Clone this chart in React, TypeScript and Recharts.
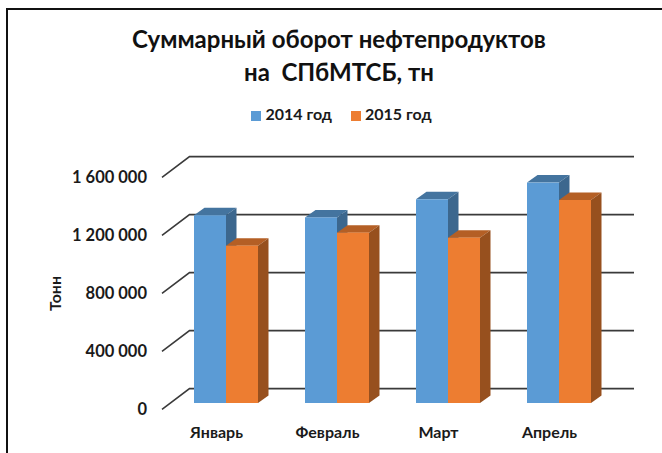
import { Bar, BarChart, CartesianGrid, Legend, XAxis, YAxis } from 'recharts';

const MONTHS = ['Январь', 'Февраль', 'Март', 'Апрель'];
const TONS_2014 = [1295000, 1280000, 1405000, 1520000];
const TONS_2015 = [1085000, 1175000, 1140000, 1400000];
const Y_TICKS = [0, 400000, 800000, 1200000, 1600000];

const chartData = MONTHS.map((month, i) => ({
  month,
  y2014: TONS_2014[i],
  y2015: TONS_2015[i],
}));

const FONT = 'Lato, "Open Sans", sans-serif';
const TEXT = '#1a1a1a';

// depth of the fake 3D extrusion
const DX = 10.5;
const DY = 7.5;

function Box3D({ x, y, width, height, fill, top, side }: any) {
  const r = x + width;
  const b = y + height;
  return (
    <g>
      <polygon points={`${x},${y} ${x + DX},${y - DY} ${r + DX},${y - DY} ${r},${y}`} fill={top} />
      <polygon points={`${r},${y} ${r + DX},${y - DY} ${r + DX},${b - DY} ${r},${b}`} fill={side} />
      <rect x={x} y={y} width={width} height={height} fill={fill} />
    </g>
  );
}

function GridLine({ y1 }: any) {
  // side wall stroke + back wall stroke
  return (
    <polyline
      points={`162,${y1 + 6.3} 189.5,${y1 - 14.4} 634,${y1 - 14.4}`}
      fill="none"
      stroke="#3a3a3a"
      strokeWidth={1.6}
    />
  );
}

function YTick({ x, y, payload }: any) {
  const label = payload.value.toString().replace(/\B(?=(\d{3})+$)/g, ' ');
  return (
    <text x={x} y={y + 12} textAnchor="end" fontFamily={FONT} fontSize={16.5} fontWeight={700} fill={TEXT}>
      {label}
    </text>
  );
}

function XTick({ x, y, payload }: any) {
  return (
    <text x={x - 9} y={y + 27} textAnchor="middle" fontFamily={FONT} fontSize={16} fontWeight={700} fill={TEXT}>
      {payload.value}
    </text>
  );
}

function YLabel({ viewBox }: any) {
  const cx = viewBox.x - 16;
  const cy = viewBox.y + viewBox.height / 2 + 6.5;
  return (
    <text
      x={cx}
      y={cy}
      transform={`rotate(-90 ${cx} ${cy})`}
      textAnchor="middle"
      dominantBaseline="central"
      fontFamily={FONT}
      fontSize={16}
      fontWeight={700}
      fill={TEXT}
    >
      Тонн
    </text>
  );
}

export default function App() {
  return (
    <div
      style={{
        position: 'absolute',
        left: 0,
        top: 0,
        width: 662,
        height: 453,
        background: '#fff',
        overflow: 'hidden',
      }}
    >
      <div
        style={{
          position: 'absolute',
          left: 6,
          top: 8,
          width: 670,
          height: 460,
          border: '2px solid #111',
          boxSizing: 'border-box',
        }}
      />
      <div
        style={{
          position: 'absolute',
          left: 0,
          top: 22,
          width: 678,
          textAlign: 'center',
          fontFamily: FONT,
          fontWeight: 700,
          fontSize: 24,
          lineHeight: '33px',
          color: '#111',
          whiteSpace: 'pre',
        }}
      >
        {'Суммарный оборот нефтепродуктов\nна  СПбМТСБ, тн'}
      </div>
      <BarChart
        width={662}
        height={453}
        data={chartData}
        margin={{ top: 152, right: 48, bottom: 20, left: 70 }}
        barGap={0}
        barSize={32}
        style={{ position: 'absolute', left: 0, top: 0 }}
      >
        <CartesianGrid horizontal={(props: any) => <GridLine key={props.y1} {...props} />} vertical={false} />
        <XAxis dataKey="month" height={30} axisLine={false} tickLine={false} tick={<XTick />} interval={0} />
        <YAxis
          width={100}
          domain={[0, 1600000]}
          ticks={Y_TICKS}
          axisLine={false}
          tickLine={false}
          tickMargin={17}
          tick={<YTick />}
          label={<YLabel />}
        />
        <Legend
          verticalAlign="top"
          iconType="square"
          iconSize={10}
          wrapperStyle={{ position: 'absolute', top: 104, left: 0, width: 702, fontFamily: FONT, fontSize: 16, fontWeight: 700 }}
          formatter={(value: string) => <span style={{ color: TEXT, paddingRight: 9 }}>{value}</span>}
        />
        <Bar
          dataKey="y2014"
          name="2014 год"
          fill="#5b9bd5"
          isAnimationActive={false}
          shape={(p: any) => <Box3D {...p} fill="#5b9bd5" top="#44749f" side="#3c678e" />}
        />
        <Bar
          dataKey="y2015"
          name="2015 год"
          fill="#ed7d31"
          isAnimationActive={false}
          shape={(p: any) => <Box3D {...p} fill="#ed7d31" top="#b45f25" side="#97501e" />}
        />
      </BarChart>
    </div>
  );
}
